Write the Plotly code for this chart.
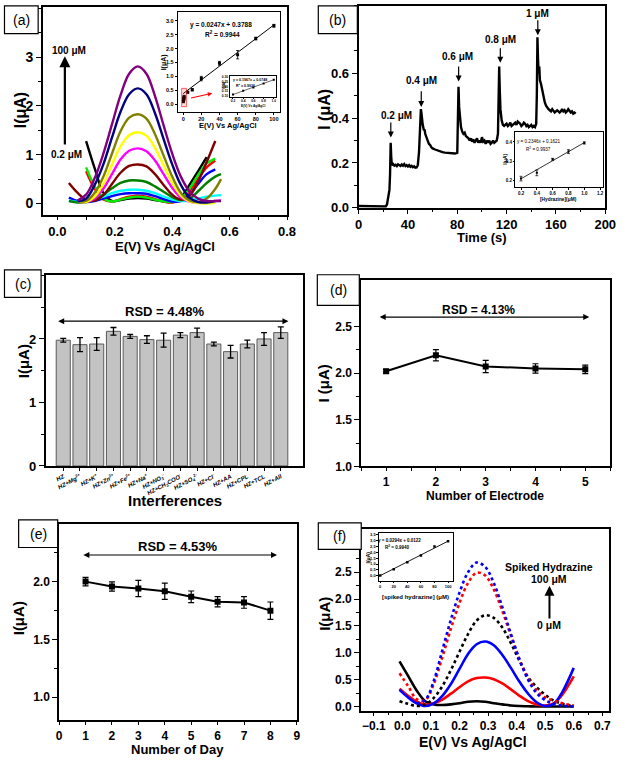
import plotly.graph_objects as go

# ================= DATA =================
# (a) DPV curves, common potential grid (V)
A_E = [0.04, 0.07, 0.10, 0.13, 0.16, 0.19, 0.22, 0.25, 0.28, 0.31, 0.34, 0.37, 0.40, 0.43, 0.46, 0.49, 0.52, 0.55, 0.57]
A_BLACK = [None, None, 1.28, 0.72, 0.22, 0.05, 0.07, 0.10, 0.11, 0.10, 0.07, 0.04, 0.03, 0.12, 0.38, 0.66, 0.95, None, None]
A_RED = [None, None, 0.66, 0.30, 0.08, 0.04, 0.09, 0.14, 0.16, 0.14, 0.09, 0.04, 0.02, 0.08, 0.25, 0.50, 0.74, 0.88, None]
A_LIME = [None, None, 0.74, 0.35, 0.10, 0.04, 0.08, 0.12, 0.14, 0.12, 0.08, 0.04, 0.03, 0.10, 0.30, 0.58, 0.82, 0.92, None]
A_BLUE = [0.12, 0.05, 0.03, 0.05, 0.10, 0.15, 0.19, 0.21, 0.21, 0.20, 0.15, 0.09, 0.04, 0.05, 0.18, 0.40, 0.60, 0.70, None]
A_CYAN = [0.06, 0.03, 0.04, 0.08, 0.14, 0.21, 0.26, 0.28, 0.28, 0.26, 0.21, 0.14, 0.08, 0.05, 0.06, 0.10, 0.14, 0.16, 0.17]
A_GREEN = [0.05, 0.02, 0.03, 0.08, 0.18, 0.31, 0.42, 0.47, 0.47, 0.44, 0.35, 0.24, 0.13, 0.07, 0.10, 0.25, 0.42, 0.55, 0.60]
A_MAROON = [0.42, 0.22, 0.08, 0.06, 0.17, 0.40, 0.63, 0.77, 0.80, 0.76, 0.60, 0.38, 0.18, 0.08, 0.15, 0.45, 0.85, 1.28, None]
A_MAGENTA = [None, 0.04, 0.03, 0.10, 0.30, 0.60, 0.90, 1.08, 1.13, 1.07, 0.88, 0.60, 0.32, 0.12, 0.04, 0.02, 0.03, 0.05, 0.06]
A_YELLOW = [None, 0.04, 0.03, 0.14, 0.40, 0.80, 1.17, 1.40, 1.46, 1.39, 1.14, 0.78, 0.42, 0.16, 0.04, 0.01, 0.00, 0.02, None]
A_OLIVE = [None, 0.05, 0.05, 0.22, 0.55, 1.02, 1.48, 1.76, 1.83, 1.74, 1.42, 0.98, 0.55, 0.22, 0.06, 0.03, 0.10, 0.30, 0.50]
A_NAVY = [None, 0.04, 0.10, 0.38, 0.80, 1.35, 1.88, 2.24, 2.36, 2.24, 1.85, 1.32, 0.80, 0.38, 0.12, 0.03, 0.02, 0.05, None]
A_PURPLE = [None, 0.06, 0.18, 0.52, 1.02, 1.62, 2.22, 2.66, 2.81, 2.66, 2.20, 1.60, 1.02, 0.55, 0.25, 0.10, 0.05, 0.05, 0.05]
A_SERIES = [A_BLACK, A_RED, A_LIME, A_BLUE, A_CYAN, A_GREEN, A_MAROON, A_MAGENTA, A_YELLOW, A_OLIVE, A_NAVY, A_PURPLE]
A_YTICKS = [0, 1, 2, 3]

# (a) inset calibration
A_IN_C = [0.2, 0.4, 0.6, 0.8, 1, 5, 10, 20, 40, 60, 80, 100]
A_IN_I = [0.10, 0.14, 0.18, 0.22, 0.27, 0.43, 0.52, 0.92, 1.47, 1.78, 2.36, 2.82]
A_IN_ERR = [0.05, 0.05, 0.05, 0.05, 0.05, 0.03, 0.04, 0.08, 0.07, 0.15, 0.05, 0.05]
A_FIT = (0.0247, 0.3788)
A_FIT_X = [0, 100]
# (a) inner inset (low range)
A2_C = [0.2, 0.4, 0.6, 0.8, 1.0]
A2_I = [0.115, 0.155, 0.19, 0.232, 0.272]
A2_FIT = (0.1967, 0.0748)
A2_FIT_X = [0.2, 1.0]

# (b) amperometric response
B_T = [0, 5, 10, 15, 20, 22, 23, 24, 25, 25.5, 26, 26.5, 27, 28, 29, 30, 31, 32, 33, 34, 35, 36, 37, 38, 39, 40,
       41, 42, 43, 44, 45, 46, 47, 48, 49, 49.5, 50, 50.5, 51, 51.5, 52, 53, 53.5, 54, 55, 56, 57, 58, 59, 60,
       62, 64, 66, 68, 70, 72, 74, 76, 78, 80, 80.5, 81, 81.5, 82, 83, 84, 85, 86, 87, 88, 89, 90, 91, 92, 93,
       94, 95, 96, 97, 98, 99, 100, 101, 102, 103, 104, 105, 106, 107, 108, 109, 110, 111, 112, 113, 113.5, 114,
       114.5, 115, 116, 117, 118, 119, 120, 121, 122, 123, 124, 125, 126, 127, 128, 129, 130, 131, 132, 133, 134,
       135, 136, 137, 138, 139, 140, 141, 142, 143, 144, 144.5, 145, 145.5, 146, 146.5, 147, 148, 149, 150, 151,
       152, 153, 154, 155, 156, 157, 158, 159, 160, 161, 162, 163, 164, 165, 166, 167, 168, 169, 170, 171, 172,
       173, 174, 175, 176]
B_I = [0.008, 0.007, 0.006, 0.005, 0.005, 0.006, 0.015, 0.04, 0.08, 0.15, 0.29, 0.22, 0.19, 0.195, 0.188, 0.192,
       0.186, 0.194, 0.19, 0.187, 0.193, 0.188, 0.195, 0.186, 0.19, 0.184, 0.19, 0.183, 0.187, 0.181, 0.185, 0.179,
       0.18, 0.19, 0.25, 0.30, 0.36, 0.44, 0.42, 0.39, 0.37, 0.345, 0.35, 0.33, 0.31, 0.30, 0.285, 0.28, 0.27, 0.265,
       0.26, 0.255, 0.25, 0.248, 0.246, 0.245, 0.244, 0.243, 0.242, 0.245, 0.35, 0.54, 0.45, 0.40, 0.36, 0.34, 0.33,
       0.335, 0.32, 0.315, 0.31, 0.30, 0.31, 0.295, 0.305, 0.29, 0.30, 0.31, 0.29, 0.30, 0.29, 0.315, 0.295, 0.30,
       0.285, 0.30, 0.29, 0.30, 0.285, 0.29, 0.30, 0.29, 0.295, 0.30, 0.33, 0.45, 0.63, 0.52, 0.44, 0.39, 0.37,
       0.365, 0.37, 0.375, 0.365, 0.37, 0.38, 0.365, 0.37, 0.375, 0.38, 0.37, 0.385, 0.38, 0.375, 0.365, 0.37, 0.38,
       0.375, 0.365, 0.37, 0.36, 0.365, 0.37, 0.36, 0.365, 0.36, 0.375, 0.50, 0.76, 0.66, 0.60, 0.63, 0.57, 0.55,
       0.52, 0.49, 0.47, 0.455, 0.445, 0.44, 0.435, 0.43, 0.44, 0.43, 0.425, 0.43, 0.435, 0.43, 0.425, 0.43, 0.44,
       0.43, 0.435, 0.425, 0.43, 0.44, 0.43, 0.425, 0.43, 0.42, 0.425, 0.42]
B_YTICKS = [0.0, 0.2, 0.4, 0.6]
B_LABELS = ["0.2 μM", "0.4 μM", "0.6 μM", "0.8 μM", "1 μM"]
B_ARROW_T = [26.1, 50.8, 81.1, 114.9, 145.3]
B_ARROW_TIP = [0.313, 0.45, 0.563, 0.647, 0.769]
B_ARROW_TAIL = [0.387, 0.526, 0.637, 0.718, 0.843]
B_LABEL_T = [31, 50.8, 79.8, 114.9, 145]
B_LABEL_Y = [0.413, 0.566, 0.673, 0.75, 0.865]
# (b) inset
B_IN_C = [0.2, 0.4, 0.6, 0.8, 1.0]
B_IN_I = [0.21, 0.24, 0.31, 0.35, 0.395]
B_IN_ERR = [0.012, 0.015, 0.005, 0.01, 0.006]
B_FIT = (0.2346, 0.1621)
B_FIT_X = [0.2, 1.0]

# (c) interference study
C_LABELS = ["HZ", "HZ+Mg<sup>2+</sup>", "HZ+K<sup>+</sup>", "HZ+Zn<sup>2+</sup>", "HZ+Fe<sup>2+</sup>",
            "HZ+Na<sup>+</sup>", "HZ+NO<sub>3</sub><sup>-</sup>", "HZ+CH<sub>3</sub>COO<sup>-</sup>",
            "HZ+SO<sub>4</sub><sup>2-</sup>", "HZ+Cl<sup>-</sup>", "HZ+AA", "HZ+CPL", "HZ+TCL", "HZ+All"]
C_VALUES = [1.98, 1.91, 1.92, 2.12, 2.04, 1.99, 1.98, 2.06, 2.10, 1.92, 1.80, 1.92, 2.00, 2.10]
C_ERR = [0.03, 0.11, 0.10, 0.06, 0.03, 0.06, 0.11, 0.04, 0.07, 0.03, 0.10, 0.06, 0.10, 0.09]
C_YTICKS = [0, 1, 2]

# (d) reproducibility
D_ELECTRODE = [1, 2, 3, 4, 5]
D_I = [2.02, 2.19, 2.07, 2.05, 2.04]
D_ERR = [0.02, 0.06, 0.065, 0.05, 0.045]
D_YTICKS = [1.0, 1.5, 2.0, 2.5]

# (e) stability
E_DAY = [1, 2, 3, 4, 5, 6, 7, 8]
E_I = [2.00, 1.957, 1.94, 1.917, 1.869, 1.826, 1.82, 1.749]
E_ERR = [0.037, 0.04, 0.07, 0.07, 0.05, 0.045, 0.05, 0.075]
E_YTICKS = [1.0, 1.5, 2.0]

# (f) real sample DPV
F_E = [-0.01, 0.02, 0.05, 0.08, 0.11, 0.14, 0.17, 0.20, 0.23, 0.26, 0.29, 0.32, 0.35, 0.38, 0.41, 0.44, 0.47, 0.50, 0.53, 0.56, 0.60]
F_BLACK = [0.84, 0.57, 0.30, 0.10, 0.04, 0.03, 0.04, 0.06, 0.09, 0.10, 0.09, 0.06, 0.04, 0.02, 0.01, 0.005, 0.0, 0.0, 0.0, 0.0, 0.0]
F_RED = [0.33, 0.20, 0.09, 0.04, 0.06, 0.13, 0.24, 0.36, 0.47, 0.53, 0.54, 0.51, 0.43, 0.32, 0.20, 0.10, 0.04, 0.02, 0.06, 0.22, 0.56]
F_BLUE = [0.31, 0.17, 0.06, 0.01, 0.06, 0.20, 0.42, 0.70, 0.98, 1.16, 1.21, 1.14, 0.96, 0.72, 0.46, 0.24, 0.08, 0.01, 0.05, 0.27, 0.72]
F_BLACK_DOT = [0.10, 0.05, 0.01, 0.04, 0.16, 0.38, 0.68, 1.02, 1.35, 1.60, 1.70, 1.65, 1.47, 1.18, 0.85, 0.55, 0.36, 0.22, 0.11, 0.05, 0.01]
F_RED_DOT = [0.62, 0.38, 0.14, 0.12, 0.42, 0.92, 1.45, 1.93, 2.30, 2.49, 2.44, 2.18, 1.78, 1.32, 0.88, 0.53, 0.30, 0.17, 0.11, 0.06, 0.02]
F_BLUE_DOT = [None, None, 0.06, 0.12, 0.48, 1.05, 1.62, 2.12, 2.50, 2.68, 2.60, 2.30, 1.85, 1.35, 0.88, 0.50, 0.25, 0.12, 0.05, 0.02, 0.0]
F_YTICKS = [0.0, 0.5, 1.0, 1.5, 2.0, 2.5]
# (f) inset
F_IN_C = [0, 20, 40, 60, 80, 100]
F_IN_I = [0.03, 0.55, 1.15, 1.72, 2.50, 2.95]
F_FIT = (0.0294, 0.0122)
F_FIT_X = [0, 100]
F_IN_TICKS = [0, 0.5, 1.0, 1.5, 2.0, 2.5, 3.0, 3.5]

# ================= STYLE =================
W, H = 627, 765
FONT = "Arial, Liberation Sans, sans-serif"
A_COLORS = ["#000000", "#ff0000", "#00ee00", "#0000ff", "#00ffff", "#008000", "#800000", "#ff00ff",
            "#ffff00", "#808000", "#000080", "#800080"]


def dom_x(a, b):
    return [a / W, b / W]


def dom_y(top, bot):
    return [1 - bot / H, 1 - top / H]


def axis(domain, rng, anchor, size, dtick=None, tick0=0, minor=None, fmt=None, lw=1.8, tlen=5, vals=None, **kw):
    d = dict(domain=domain, range=rng, anchor=anchor, showline=True, linecolor="black", linewidth=lw,
             mirror=True, ticks="outside", ticklen=tlen, tickwidth=max(lw * 0.8, 0.6), tickcolor="black",
             showgrid=False, zeroline=False,
             tickfont=dict(family=FONT, size=size, color="black", weight="bold"))
    if vals is not None:
        d.update(tickmode="array", tickvals=vals)
    elif dtick is not None:
        d.update(tickmode="linear", tick0=tick0, dtick=dtick)
    if minor is not None:
        d["minor"] = dict(ticks="outside", ticklen=max(tlen * 0.6, 2.5), tickwidth=max(lw * 0.8, 0.6),
                          tickcolor="black", dtick=minor, tick0=tick0, showgrid=False, tickmode="linear")
    if fmt:
        d["tickformat"] = fmt
    d.update(kw)
    return d


def fit_line(fit, xs):
    return [fit[0] * x + fit[1] for x in xs]


fig = go.Figure()

# ---- (a) main ----
for ys, col in zip(A_SERIES, A_COLORS):
    fig.add_trace(go.Scatter(x=A_E, y=ys, mode="lines", line=dict(color=col, width=2.4, shape="spline", smoothing=1.0),
                             xaxis="x", yaxis="y", connectgaps=False))
# ---- (a) inset ----
fig.add_trace(go.Scatter(x=A_FIT_X, y=fit_line(A_FIT, A_FIT_X), mode="lines", line=dict(color="black", width=1),
                         xaxis="x2", yaxis="y2"))
fig.add_trace(go.Scatter(x=A_IN_C, y=A_IN_I, mode="markers", marker=dict(color="black", size=3, symbol="square"),
                         error_y=dict(type="data", array=A_IN_ERR, color="black", thickness=0.8, width=1.5),
                         xaxis="x2", yaxis="y2"))
# ---- (a) inner inset ----
fig.add_trace(go.Scatter(x=A2_FIT_X, y=fit_line(A2_FIT, A2_FIT_X), mode="lines", line=dict(color="black", width=0.6),
                         xaxis="x3", yaxis="y3"))
fig.add_trace(go.Scatter(x=A2_C, y=A2_I, mode="markers", marker=dict(color="black", size=2, symbol="square"),
                         xaxis="x3", yaxis="y3"))
# ---- (b) ----
fig.add_trace(go.Scatter(x=B_T, y=B_I, mode="lines", line=dict(color="black", width=2.4), xaxis="x4", yaxis="y4"))
fig.add_trace(go.Scatter(x=B_FIT_X, y=fit_line(B_FIT, B_FIT_X), mode="lines", line=dict(color="black", width=0.8),
                         xaxis="x5", yaxis="y5"))
fig.add_trace(go.Scatter(x=B_IN_C, y=B_IN_I, mode="markers", marker=dict(color="black", size=2, symbol="square"),
                         error_y=dict(type="data", array=B_IN_ERR, color="black", thickness=0.7, width=1.5),
                         xaxis="x5", yaxis="y5"))
# ---- (c) ----
fig.add_trace(go.Bar(x=C_LABELS, y=C_VALUES, width=0.84, marker=dict(color="#c3c3c3", line=dict(color="#5a5a5a", width=1)),
                     error_y=dict(type="data", array=C_ERR, color="black", thickness=1.3, width=3),
                     xaxis="x6", yaxis="y6"))
# ---- (d) ----
fig.add_trace(go.Scatter(x=D_ELECTRODE, y=D_I, mode="lines+markers", line=dict(color="black", width=2),
                         marker=dict(color="black", size=6, symbol="square"),
                         error_y=dict(type="data", array=D_ERR, color="black", thickness=1.2, width=3),
                         xaxis="x7", yaxis="y7"))
# ---- (e) ----
fig.add_trace(go.Scatter(x=E_DAY, y=E_I, mode="lines+markers", line=dict(color="black", width=2),
                         marker=dict(color="black", size=6, symbol="square"),
                         error_y=dict(type="data", array=E_ERR, color="black", thickness=1.2, width=3),
                         xaxis="x8", yaxis="y8"))
# ---- (f) ----
for ys, col, dash in [(F_BLACK, "black", "solid"), (F_RED, "#ff0000", "solid"), (F_BLUE, "#0000ff", "solid"),
                      (F_BLACK_DOT, "black", "dot"), (F_RED_DOT, "#ff0000", "dot"), (F_BLUE_DOT, "#0000ff", "dot")]:
    fig.add_trace(go.Scatter(x=F_E, y=ys, mode="lines",
                             line=dict(color=col, width=2.6, dash=dash, shape="spline"),
                             xaxis="x9", yaxis="y9"))
fig.add_trace(go.Scatter(x=F_FIT_X, y=fit_line(F_FIT, F_FIT_X), mode="lines", line=dict(color="black", width=0.9),
                         xaxis="x10", yaxis="y10"))
fig.add_trace(go.Scatter(x=F_IN_C, y=F_IN_I, mode="markers", marker=dict(color="black", size=2.5, symbol="square"),
                         xaxis="x10", yaxis="y10"))

layout = dict(
    width=W, height=H, margin=dict(l=0, r=0, t=0, b=0), showlegend=False,
    paper_bgcolor="white", plot_bgcolor="white", font=dict(family=FONT, color="black"),
    # (a)
    xaxis=axis(dom_x(40, 290), [-0.05, 0.8], "y", 13, dtick=0.2, minor=0.1, fmt=".1f", tlen=3),
    yaxis=axis(dom_y(6, 216.7), [-0.24, 4.03], "x", 14, minor=0.5, vals=A_YTICKS),
    xaxis2=axis(dom_x(178, 283), [-6, 107], "y2", 5.5, dtick=20, lw=1, tlen=2),
    yaxis2=axis(dom_y(11, 112), [-0.27, 3.32], "x2", 5.5, dtick=0.5, fmt=".1f", lw=1, tlen=2),
    xaxis3=axis(dom_x(232, 279), [0.15, 1.05], "y3", 3.2, dtick=0.2, fmt=".1f", lw=0.6, tlen=1),
    yaxis3=axis(dom_y(76, 97), [0.09, 0.31], "x3", 3.2, dtick=0.05, fmt=".2f", lw=0.6, tlen=1),
    # (b)
    xaxis4=axis(dom_x(363.3, 616), [0, 200], "y4", 13, dtick=40, minor=20, tlen=4),
    yaxis4=axis(dom_y(5, 209.3), [0, 0.9], "x4", 13, minor=0.1, fmt=".1f", vals=B_YTICKS),
    xaxis5=axis(dom_x(524, 614), [0.13, 1.24], "y5", 4.5, dtick=0.2, fmt=".1f", lw=0.9, tlen=1.5),
    yaxis5=axis(dom_y(132.7, 188.3), [0.166, 0.451], "x5", 4.5, dtick=0.1, fmt=".1f", lw=0.9, tlen=1.5),
    # (c)
    xaxis6=axis(dom_x(42.7, 306.7), [-1.05, 14.35], "y6", 6, tickangle=-28, tlen=3),
    yaxis6=axis(dom_y(277.7, 470.5), [0, 3.0], "x6", 13, minor=0.5, vals=C_YTICKS),
    # (d)
    xaxis7=axis(dom_x(366, 621), [0.5, 5.5], "y7", 12, dtick=1, minor=0.5, tlen=3),
    yaxis7=axis(dom_y(282, 471), [1.0, 3.0], "x7", 12, minor=0.25, fmt=".1f", vals=D_YTICKS),
    # (e)
    xaxis8=axis(dom_x(56.5, 300), [0, 9], "y8", 12, dtick=1, tlen=3),
    yaxis8=axis(dom_y(529, 728), [0.8, 2.5], "x8", 12, minor=0.25, fmt=".1f", vals=E_YTICKS),
    # (f)
    xaxis9=axis(dom_x(365.7, 620), [-0.145, 0.724], "y9", 12, dtick=0.1, minor=0.05, fmt=".1f", tlen=3),
    yaxis9=axis(dom_y(534, 718.3), [-0.08, 3.31], "x9", 12, minor=0.25, fmt=".1f", vals=F_YTICKS),
    xaxis10=axis(dom_x(384, 460.5), [-2, 108], "y10", 4, dtick=20, lw=0.8, tlen=1.5),
    yaxis10=axis(dom_y(538.3, 587), [-0.45, 3.65], "x10", 4, lw=0.8, tlen=1.5,
                 tickmode="array", tickvals=F_IN_TICKS, ticktext=[f"{v:.1f}".replace(".", ",") for v in F_IN_TICKS]),
)
layout["xaxis6"]["tickfont"]["style"] = "italic"
fig.update_layout(**layout)

shapes = []
ann = []


def ptext(px, py, text, size, bold=True, angle=0, color="black"):
    ann.append(dict(xref="paper", yref="paper", x=px / W, y=1 - py / H, text=text, showarrow=False,
                    xanchor="center", yanchor="middle", textangle=angle,
                    font=dict(family=FONT, size=size, color=color, weight="bold" if bold else "normal")))


def box(x0, y0, x1, y1, label):
    shapes.append(dict(type="rect", xref="paper", yref="paper", x0=x0 / W, x1=x1 / W, y0=1 - y1 / H, y1=1 - y0 / H,
                       fillcolor="white", line=dict(color="black", width=1.2), layer="above"))
    ptext((x0 + x1) / 2, (y0 + y1) / 2, label, 14, bold=False)


# panel label boxes
box(0.5, 5, 35, 33, "(a)")
box(322, 5, 362, 33, "(b)")
box(0.5, 272, 38, 300, "(c)")
box(321, 277, 364, 308, "(d)")
box(15, 525, 55, 553, "(e)")
box(322, 528, 366, 555, "(f)")

# inner inset frame in (a)
shapes.append(dict(type="rect", xref="paper", yref="paper", x0=224 / W, x1=282.5 / W, y0=1 - 110 / H, y1=1 - 72.7 / H,
                   fillcolor="white", line=dict(color="black", width=0.8), layer="below"))
# red box near origin of (a) inset
shapes.append(dict(type="rect", xref="x2", yref="y2", x0=-1.7, x1=3.6, y0=-0.09, y1=0.57,
                   line=dict(color="red", width=0.6), fillcolor="rgba(255,0,0,0.12)"))

# axis titles
ptext(165, 248, "E(V) Vs Ag/AgCl", 13)
ptext(17, 111, "I(μA)", 16, angle=-90)
ptext(490, 239, "Time (s)", 13)
ptext(329, 110, "I (μA)", 16, angle=-90)
ptext(175, 505, "Interferences", 15)
ptext(20, 365, "I(μA)", 15, angle=-90)
ptext(493, 501, "Number of Electrode", 12)
ptext(327, 387, "I (μA)", 15, angle=-90)
ptext(178, 757.5, "Number of Day", 13)
ptext(15, 625, "I(μA)", 15, angle=-90)
ptext(481, 750, "E(V) Vs Ag/AgCl", 14)
ptext(329, 620, "I(μA)", 15, angle=-90)

# inset titles / equations
ptext(230, 126, "E(V) Vs Ag/AgCl", 7.5)
ptext(164, 62, "I(μA)", 7, angle=-90)
ptext(222, 24, "y = 0.0247x + 0.3788", 6.5)
ptext(224, 33, "R<sup>2</sup> = 0.9944", 6.5)
ptext(252, 80, "y = 0.1967x + 0.0748", 3.6)
ptext(247, 85, "R<sup>2</sup> = 0.9936", 3.6)
ptext(256, 106.5, "E(V) Vs Ag/AgCl", 3.2)
ptext(225.5, 86, "I(μA)", 3.2, angle=-90)
ptext(568, 201, "[Hydrazine](μM)", 4.8)
ptext(513, 160, "I(μA)", 4.8, angle=-90)
ptext(548, 142, "y = 0.2346x + 0.1621", 4.6, bold=False)
ptext(548, 149.5, "R<sup>2</sup> = 0.9937", 4.6, bold=False)
ptext(422, 603, "[spiked hydrazine] (μM)", 6)
ptext(373, 563, "I(μA)", 5, angle=-90)
ptext(405, 546, "y = 0.0294x + 0.0122", 4.5)
ptext(403, 552, "R<sup>2</sup> = 0.9940", 4.5)

# (a) concentration arrow
ann.append(dict(xref="x", yref="y", axref="x", ayref="y", x=0.026, y=3.02, ax=0.026, ay=1.18, text="",
                showarrow=True, arrowhead=2, arrowsize=1, arrowwidth=2.2, arrowcolor="black"))
ann.append(dict(xref="x", yref="y", x=0.041, y=3.14, text="100 μM", showarrow=False,
                font=dict(family=FONT, size=10, weight="bold")))
ann.append(dict(xref="x", yref="y", x=0.031, y=1.0, text="0.2 μM", showarrow=False,
                font=dict(family=FONT, size=10, weight="bold")))
# red arrow in (a) inset
ann.append(dict(xref="x2", yref="y2", axref="x2", ayref="y2", x=32, y=0.39, ax=7, ay=0.21, text="",
                showarrow=True, arrowhead=2, arrowsize=0.8, arrowwidth=1.1, arrowcolor="red"))

# (b) arrows and labels
for lab, t, tip, tail, lt, ly in zip(B_LABELS, B_ARROW_T, B_ARROW_TIP, B_ARROW_TAIL, B_LABEL_T, B_LABEL_Y):
    ann.append(dict(xref="x4", yref="y4", axref="x4", ayref="y4", x=t, y=tip, ax=t, ay=tail, text="",
                    showarrow=True, arrowhead=2, arrowsize=1, arrowwidth=1.2, arrowcolor="black"))
    ann.append(dict(xref="x4", yref="y4", x=lt, y=ly, text=lab, showarrow=False,
                    font=dict(family=FONT, size=10, weight="bold")))

# RSD arrows
for xr, yr, x0, x1, yv, tx, ty, txt, sz in [("x6", "y6", -0.39, 13.46, 2.28, 6.1, 2.43, "RSD = 4.48%", 13),
                                             ("x7", "y7", 0.84, 5.08, 2.60, 2.85, 2.68, "RSD = 4.13%", 12),
                                             ("x8", "y8", 0.86, 8.25, 2.23, 4.5, 2.30, "RSD = 4.53%", 13)]:
    ann.append(dict(xref=xr, yref=yr, axref=xr, ayref=yr, x=x1, y=yv, ax=x0, ay=yv, text="",
                    showarrow=True, arrowhead=2, arrowside="end+start", arrowsize=1, arrowwidth=1.2,
                    arrowcolor="black"))
    ann.append(dict(xref=xr, yref=yr, x=tx, y=ty, text=txt, showarrow=False,
                    font=dict(family=FONT, size=sz, weight="bold")))

# (f) spiked arrow
ann.append(dict(xref="x9", yref="y9", axref="x9", ayref="y9", x=0.515, y=2.25, ax=0.515, ay=1.61, text="",
                showarrow=True, arrowhead=2, arrowsize=1, arrowwidth=2, arrowcolor="black"))
for txt, yv in [("Spiked Hydrazine", 2.59), ("100 μM", 2.38), ("0 μM", 1.52)]:
    ann.append(dict(xref="x9", yref="y9", x=0.515, y=yv, text=txt, showarrow=False,
                    font=dict(family=FONT, size=10.5, weight="bold")))

fig.update_layout(shapes=shapes, annotations=ann)
fig.write_html("out.html", config={"displayModeBar": False},
               post_script="document.body.style.margin='0';document.body.style.overflow='hidden';")
